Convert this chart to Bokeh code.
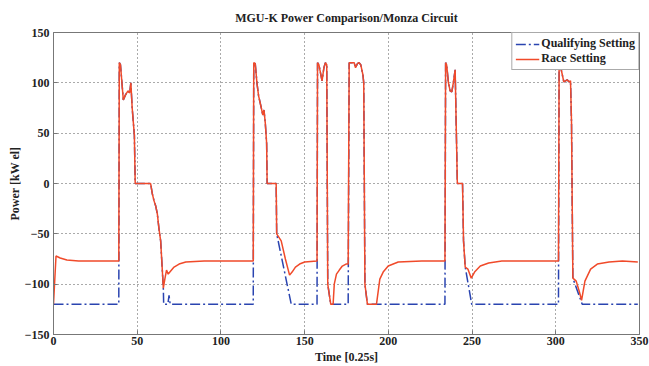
from bokeh.plotting import figure
from bokeh.models import Range1d, Legend, LegendItem, FixedTicker
from bokeh.embed import file_html
from bokeh.resources import INLINE

# ---- data ----
race_t = [0, 1.5, 4, 8, 15, 39,
          39.3, 40, 41.7, 43, 44.5, 45.5, 46.2, 47, 48.3, 48.8, 58, 59, 60, 61, 62, 63, 64, 65.6,
          66.5, 67.5, 68.5, 70, 72, 75, 79, 90, 119.3,
          119.6, 120.5, 121.5, 122.5, 124, 125, 125.7, 126.5, 127.3, 127.6, 133, 133.3, 136, 138.5, 141,
          142.5, 144.5, 147, 150, 157.4,
          157.7, 158.5, 160.4, 161.5, 162.4, 163.2, 163.8, 165.6, 167, 167.7, 169, 170.7, 172.5, 174.7, 176,
          176.6, 179.6, 180.4, 181.5, 182.5, 183.5, 184.8, 185.3, 186, 187.5, 192.9, 194.9, 196.9, 199.9,
          205.9, 220, 233.8,
          234.2, 234.8, 235.9, 236.9, 237.9, 238.8, 239.9, 240.5, 241.2, 244.3, 244.9, 245.9, 247.5, 249.5,
          251.5, 254.9, 259.9, 267.8, 301.6,
          302, 303, 304.8, 306.8, 307.8, 308.8, 309.4, 310.2, 312.2, 314, 315.4, 317.4, 320.8, 324.8,
          331.8, 339.8, 349]
race_p = [-120, -72, -74, -76, -77, -77,
          120, 118, 83, 88, 92, 90, 100, 75, 48, 0, 0, -10, -17, -22, -30, -45, -57, -104,
          -95, -86, -90, -87, -83, -80, -78, -77, -77,
          120, 119, 100, 87, 76, 68, 73, 60, 40, 0, 0, -50, -57, -75, -91,
          -88, -83, -80, -78, -77,
          120, 118, 102, 115, 120, 118, -100, -120, -120, -100, -90, -86, -82, -80, -80,
          120, 120, 115, 119, 120, 118, 108, 100, -100, -120, -120, -95, -88, -82,
          -78, -77, -77,
          120, 118, 100, 92, 91, 100, 113, 60, 0, 0, -57, -83, -85, -94,
          -88, -82, -79, -77, -77,
          120, 115, 101, 103, 101, 102, 60, -94, -97, -107, -116, -97, -85, -80,
          -78, -77, -78]

qual_t = [0, 39,
          39.3, 40, 41.7, 43, 44.5, 45.5, 46.2, 47, 48.3, 48.8, 58, 59, 60, 61, 62, 63, 64, 65.6,
          65.8, 68.3, 69, 69.7, 119.3,
          119.6, 120.5, 121.5, 122.5, 124, 125, 125.7, 126.5, 127.3, 127.6, 133, 133.3, 142, 157.4,
          157.7, 158.5, 160.4, 161.5, 162.4, 163.2, 163.8, 165.6, 176,
          176.6, 179.6, 180.4, 181.5, 182.5, 183.5, 184.8, 185.3, 186, 187.5, 233.8,
          234.2, 234.8, 235.9, 236.9, 237.9, 238.8, 239.9, 240.5, 241.2, 244.3, 244.9, 245.9, 249.8, 301.6,
          302, 303, 304.8, 306.8, 307.8, 308.8, 309.4, 310.2, 315.8, 349]
qual_p = [-120, -120,
          120, 118, 83, 88, 92, 90, 100, 75, 48, 0, 0, -10, -17, -22, -30, -45, -57, -104,
          -120, -120, -111, -120, -120,
          120, 119, 100, 87, 76, 68, 73, 60, 40, 0, 0, -50, -120, -120,
          120, 118, 102, 115, 120, 118, -100, -120, -120,
          120, 120, 115, 119, 120, 118, 108, 100, -100, -120, -120,
          120, 118, 100, 92, 91, 100, 113, 60, 0, 0, -57, -83, -120, -120,
          120, 115, 101, 103, 101, 102, 60, -94, -120, -120]

x_ticks = [0, 50, 100, 150, 200, 250, 300, 350]
y_ticks = [-150, -100, -50, 0, 50, 100, 150]
x_label = "Time [0.25s]"
y_label = "Power [kW el]"
title = "MGU-K Power Comparison/Monza Circuit"

SERIF = "Liberation Serif"
BLUE = "#2a44b0"
RED = "#f04a2a"
TXT = "#222222"

p = figure(width=649, height=366, output_backend="svg", toolbar_location=None,
           x_range=Range1d(0, 350), y_range=Range1d(-150, 150),
           min_border_left=53, min_border_right=10, min_border_top=32, min_border_bottom=31,
           title=title)

p.title.text_font = SERIF
p.title.text_font_style = "bold"
p.title.text_font_size = "12px"
p.title.align = "center"
p.title.text_color = TXT
p.title.standoff = 16

ql = p.line(qual_t, qual_p, line_color=BLUE, line_width=1.5, line_dash="10 3 2 3")
rl = p.line(race_t, race_p, line_color=RED, line_width=1.5)

for ax in (p.xaxis[0], p.yaxis[0]):
    ax.major_label_text_font = SERIF
    ax.major_label_text_font_style = "bold"
    ax.major_label_text_font_size = "12px"
    ax.major_label_text_color = TXT
    ax.axis_label_text_font = SERIF
    ax.axis_label_text_font_style = "bold"
    ax.axis_label_text_font_size = "12px"
    ax.axis_label_text_color = TXT
    ax.axis_line_color = "#777777"
    ax.major_tick_line_color = "#777777"
    ax.major_tick_in = 4
    ax.major_tick_out = 0
    ax.minor_tick_line_color = None
    ax.axis_label_standoff = 2

p.xaxis[0].major_label_standoff = 2
p.yaxis[0].major_label_standoff = 4
p.yaxis[0].axis_label_standoff = 0
p.xaxis[0].ticker = FixedTicker(ticks=x_ticks)
p.yaxis[0].ticker = FixedTicker(ticks=y_ticks)
p.xaxis.axis_label = x_label
p.yaxis.axis_label = y_label

p.grid.grid_line_color = "#444444"
p.grid.grid_line_dash = "1 3"
p.grid.grid_line_alpha = 0.9

p.outline_line_color = "#777777"
p.outline_line_alpha = 1
p.background_fill_color = "white"
p.border_fill_color = "white"

legend = Legend(items=[LegendItem(label="Qualifying Setting", renderers=[ql]),
                       LegendItem(label="Race Setting", renderers=[rl])],
                location="top_right", margin=0, padding=3, spacing=0,
                glyph_width=24, glyph_height=14, label_height=14, label_standoff=2,
                label_text_font=SERIF, label_text_font_style="bold",
                label_text_font_size="12px", label_text_color=TXT,
                border_line_color="#555555", background_fill_alpha=1)
p.add_layout(legend)

open("out.html", "w").write(file_html(p, INLINE))
